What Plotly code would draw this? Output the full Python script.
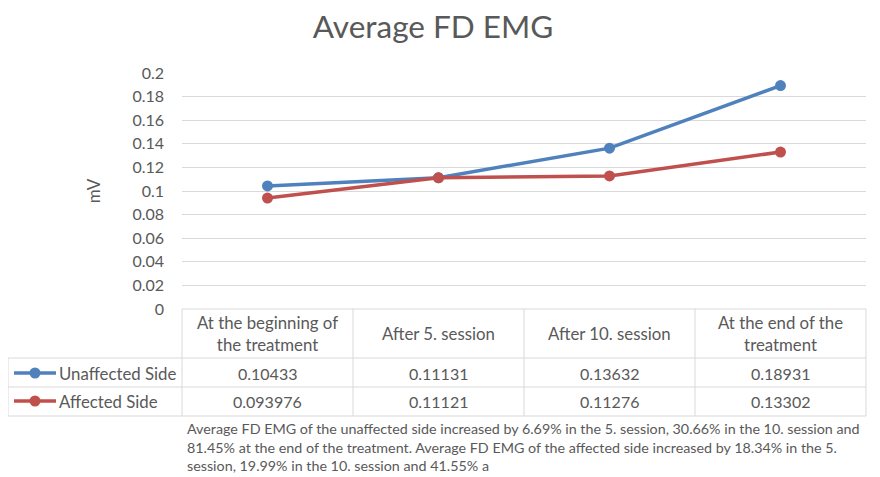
import plotly.graph_objects as go

# 資料
categories = ["At the beginning of<br>the treatment", "After 5. session",
              "After 10. session", "At the end of the<br>treatment"]
series_names = ["Unaffected Side", "Affected Side"]
unaffected = [0.10433, 0.11131, 0.13632, 0.18931]
affected = [0.093976, 0.11121, 0.11276, 0.13302]
unaffected_labels = ["0.10433", "0.11131", "0.13632", "0.18931"]
affected_labels = ["0.093976", "0.11121", "0.11276", "0.13302"]
y_ticks = [0, 0.02, 0.04, 0.06, 0.08, 0.1, 0.12, 0.14, 0.16, 0.18, 0.2]
y_tick_labels = ["0", "0.02", "0.04", "0.06", "0.08", "0.1", "0.12",
                 "0.14", "0.16", "0.18", "0.2"]
caption_lines = [
    "Average FD EMG of the unaffected side increased by 6.69% in the 5. session, 30.66% in the 10. session and",
    "81.45% at the end of the treatment. Average FD EMG of the affected side increased by 18.34% in the 5.",
    "session, 19.99% in the 10. session and 41.55% a",
]

W, H = 880, 477
OFF = 8  # 頁面 body 預設邊距
FONT = "Lato"
TEXT = "#595959"
GRID = "#D9D9D9"
colors = {"Unaffected Side": "#4F81BD", "Affected Side": "#C0504D"}


def px(x):
    return (x - OFF) / W


def py(y):
    return 1 - (y - OFF) / H


x_idx = list(range(len(categories)))

fig = go.Figure()
for name, values in zip(series_names, [unaffected, affected]):
    fig.add_trace(go.Scatter(
        x=x_idx, y=values, mode="lines+markers", name=name,
        line=dict(color=colors[name], width=3.5),
        marker=dict(size=11, color=colors[name]),
        cliponaxis=False
    ))

shapes = []
# 資料表格線
left, plot_left, right = 8, 182, 866
col_w = (right - plot_left) / 4
row_y = [309, 358, 387, 416]
shapes.append(dict(type="line", xref="paper", yref="paper",
                   x0=px(plot_left), x1=px(right), y0=py(row_y[0]), y1=py(row_y[0]),
                   line=dict(color=GRID, width=1)))
for yy in row_y[1:]:
    shapes.append(dict(type="line", xref="paper", yref="paper",
                       x0=px(left), x1=px(right), y0=py(yy), y1=py(yy),
                       line=dict(color=GRID, width=1)))
shapes.append(dict(type="line", xref="paper", yref="paper",
                   x0=px(left), x1=px(left), y0=py(row_y[1]), y1=py(row_y[3]),
                   line=dict(color=GRID, width=1)))
for i in range(5):
    xx = plot_left + i * col_w
    shapes.append(dict(type="line", xref="paper", yref="paper",
                       x0=px(xx), x1=px(xx), y0=py(row_y[0]), y1=py(row_y[3]),
                       line=dict(color=GRID, width=1)))

# 圖例符號
annotations = []
for name, yy in zip(series_names, [373, 401]):
    shapes.append(dict(type="line", xref="paper", yref="paper",
                       x0=px(14), x1=px(56), y0=py(yy), y1=py(yy),
                       line=dict(color=colors[name], width=3.5)))
    shapes.append(dict(type="circle", xref="paper", yref="paper",
                       x0=px(29.5), x1=px(40.5), y0=py(yy + 5.5), y1=py(yy - 5.5),
                       fillcolor=colors[name], line=dict(color=colors[name], width=0)))
    annotations.append(dict(xref="paper", yref="paper", x=px(57), y=py(yy),
                            text=name, showarrow=False, xanchor="left", yanchor="middle",
                            font=dict(family=FONT, size=16.8, color=TEXT)))

# 表格文字
for i, cat in enumerate(categories):
    annotations.append(dict(xref="x", yref="paper", x=i, y=py(333.5),
                            text=cat, showarrow=False, yanchor="middle",
                            font=dict(family=FONT, size=16.8, color=TEXT)))
    for labels, yy in [(unaffected_labels, 373), (affected_labels, 401)]:
        annotations.append(dict(xref="x", yref="paper", x=i, y=py(yy),
                                text=labels[i], showarrow=False, yanchor="middle",
                                font=dict(family=FONT, size=16, color=TEXT)))

annotations.append(dict(xref="paper", yref="paper", x=px(185), y=py(447),
                        text="<br>".join(caption_lines), showarrow=False,
                        xanchor="left", yanchor="middle", align="left",
                        font=dict(family=FONT, size=14.3, color=TEXT)))

fig.update_layout(
    width=W, height=H,
    margin=dict(l=0, r=0, t=0, b=0),
    plot_bgcolor="white", paper_bgcolor="white",
    showlegend=False,
    title=dict(text="Average FD EMG", x=px(433), xanchor="center",
               y=py(27), yanchor="middle",
               font=dict(family=FONT, size=31.5, color=TEXT)),
    xaxis=dict(domain=[px(plot_left), px(right)], range=[-0.5, 3.5],
               showticklabels=False, showgrid=False, zeroline=False,
               showline=False, ticks="", automargin=False),
    yaxis=dict(domain=[py(309), py(73)], range=[0, 0.2],
               tickvals=y_ticks, ticktext=y_tick_labels,
               showgrid=True, gridcolor=GRID, gridwidth=1,
               zeroline=False, showline=False, ticks="",
               ticklabelstandoff=17, automargin=False,
               tickfont=dict(family=FONT, size=16, color=TEXT),
               title=dict(text="mV", standoff=27,
                          font=dict(family=FONT, size=17, color=TEXT))),
    shapes=shapes,
    annotations=annotations,
)

fig.write_html("out.html")
